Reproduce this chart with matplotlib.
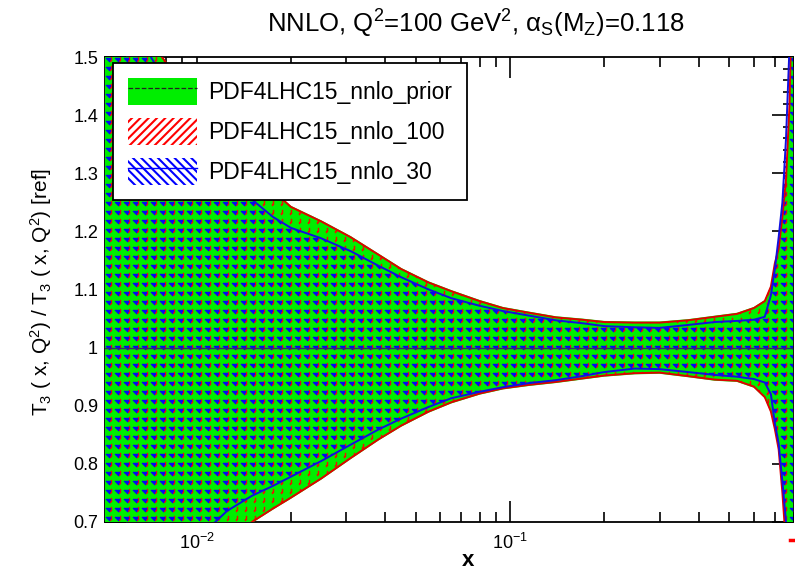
import numpy as np
import matplotlib
matplotlib.use("Agg")
import matplotlib.pyplot as plt
from matplotlib.patches import Patch
from matplotlib.lines import Line2D
from matplotlib.ticker import FuncFormatter, MultipleLocator, LogLocator

plt.rcParams['font.family'] = ['Liberation Sans', 'DejaVu Sans']
plt.rcParams['mathtext.fontset'] = 'custom'
plt.rcParams['mathtext.rm'] = 'Liberation Sans'
plt.rcParams['mathtext.it'] = 'Liberation Sans:italic'
plt.rcParams['mathtext.sf'] = 'Liberation Sans'
plt.rcParams['hatch.linewidth'] = 1.5

# x grid and ratio bands, T3 at Q^2 = 100 GeV^2
x = [0.005, 0.0075, 0.010, 0.0125, 0.015, 0.0175, 0.020, 0.025, 0.031, 0.038,
     0.045, 0.055, 0.065, 0.080, 0.095, 0.115, 0.14, 0.17, 0.20, 0.25,
     0.30, 0.37, 0.45, 0.53, 0.60, 0.65, 0.68, 0.70, 0.72, 0.74,
     0.76, 0.78, 0.80]

nnlo100_up = [1.70, 1.51, 1.42, 1.36, 1.31, 1.27, 1.242, 1.217, 1.19, 1.16,
              1.135, 1.112, 1.097, 1.080, 1.068, 1.060, 1.052, 1.048, 1.044, 1.043,
              1.043, 1.047, 1.053, 1.058, 1.068, 1.080, 1.105, 1.145, 1.17, 1.225,
              1.29, 1.42, 1.70]
nnlo100_lo = [0.40, 0.50, 0.58, 0.65, 0.70, 0.723, 0.742, 0.775, 0.81, 0.842,
              0.866, 0.89, 0.906, 0.921, 0.930, 0.936, 0.941, 0.947, 0.952, 0.956,
              0.957, 0.951, 0.945, 0.943, 0.933, 0.915, 0.89, 0.86, 0.825, 0.75,
              0.66, 0.55, 0.40]

nnlo30_up = [1.65, 1.48, 1.38, 1.31, 1.255, 1.225, 1.206, 1.188, 1.166, 1.141,
             1.121, 1.100, 1.085, 1.072, 1.063, 1.055, 1.047, 1.042, 1.037, 1.035,
             1.034, 1.039, 1.044, 1.046, 1.048, 1.053, 1.09, 1.135, 1.19, 1.25,
             1.36, 1.52, 1.70]
nnlo30_lo = [0.45, 0.55, 0.67, 0.719, 0.745, 0.762, 0.778, 0.805, 0.833, 0.859,
             0.878, 0.898, 0.913, 0.924, 0.932, 0.939, 0.944, 0.951, 0.958, 0.964,
             0.963, 0.958, 0.953, 0.950, 0.946, 0.940, 0.92, 0.87, 0.835, 0.77,
             0.70, 0.56, 0.42]

# prior band is marginally wider than the 100 replica one
prior_up = [v + 0.002 for v in nnlo100_up]
prior_lo = [v - 0.002 for v in nnlo100_lo]
prior_cv = [1.0] * len(x)

labels = ['PDF4LHC15_nnlo_prior', 'PDF4LHC15_nnlo_100', 'PDF4LHC15_nnlo_30']

W, H, DPI = 795, 572, 100
fig = plt.figure(figsize=(W / DPI, H / DPI), dpi=DPI)
ax = fig.add_axes([105 / W, 1 - 522 / H, 688 / W, 465 / H])
ax.set_xscale('log')
ax.set_xlim(0.0051, 0.80)
ax.set_ylim(0.7, 1.5)
ax.set_autoscale_on(False)


def stipple(marks, rgb, shape, period=9):
    # periodic dot texture with a soft halo, like a printed stipple fill
    tile = np.zeros((period, period))
    for r, c in marks:
        tile[r, c] = 1.0
    soft = 0.8 * tile
    for sh, ax_ in [(1, 0), (-1, 0), (1, 1), (-1, 1)]:
        soft += 0.2 * np.roll(tile, sh, axis=ax_)
    soft = np.clip(soft, 0, 0.95)
    ny, nx = shape
    a = np.tile(soft, (ny // period + 1, nx // period + 1))[:ny, :nx]
    img = np.zeros((ny, nx, 4))
    img[..., :3] = rgb
    img[..., 3] = a
    return img


shape = (465, 688)
red_img = stipple([(0, 6), (1, 6), (2, 6), (3, 6), (3, 5), (4, 5)], (1, 0, 0), shape)
blue_img = stipple([(1, 1), (1, 2), (1, 3), (1, 4), (1, 5), (2, 2), (2, 3), (2, 4),
                    (2, 5), (3, 3), (3, 4), (4, 4)], (0, 0, 1), shape)

# prior: plain green
ax.fill_between(x, prior_lo, prior_up, facecolor='#00ee00', edgecolor='none', zorder=3)

# 100 replicas: red stipple clipped to band
band100 = ax.fill_between(x, nnlo100_lo, nnlo100_up, facecolor='none', edgecolor='none', zorder=3)
im = ax.imshow(red_img, extent=(0, 1, 0, 1), transform=ax.transAxes, aspect='auto',
               interpolation='nearest', zorder=3.1)
im.set_clip_path(band100.get_paths()[0], ax.transData)

# 30 replicas: blue stipple
band30 = ax.fill_between(x, nnlo30_lo, nnlo30_up, facecolor='none', edgecolor='none', zorder=3)
im = ax.imshow(blue_img, extent=(0, 1, 0, 1), transform=ax.transAxes, aspect='auto',
               interpolation='nearest', zorder=3.2)
im.set_clip_path(band30.get_paths()[0], ax.transData)

# band outlines
ax.plot(x, nnlo100_up, color='#e00000', lw=1.4, zorder=3.3)
ax.plot(x, nnlo100_lo, color='#e00000', lw=1.4, zorder=3.3)
ax.plot(x, nnlo30_up, color='#1010e0', lw=1.4, zorder=3.4)
ax.plot(x, nnlo30_lo, color='#1010e0', lw=1.4, zorder=3.4)
ax.plot(x, prior_cv, color='#30306a', lw=1.0, zorder=3.5)

ax.set_ylim(0.7, 1.5)
ax.set_xlim(0.0051, 0.80)

ax.yaxis.set_major_locator(MultipleLocator(0.1))
ax.yaxis.set_minor_locator(MultipleLocator(0.02))
ax.yaxis.set_major_formatter(FuncFormatter(lambda v, p: '%g' % round(v, 2)))
ax.xaxis.set_major_locator(LogLocator(base=10))
ax.xaxis.set_minor_locator(LogLocator(base=10, subs=np.arange(2, 10)))
ax.tick_params(which='both', direction='in', top=True, right=True, width=1.2)
ax.tick_params(which='major', length=15)
ax.tick_params(which='minor', length=7)
ax.tick_params(axis='y', labelsize=13, pad=5)
ax.tick_params(axis='x', labelsize=13, pad=8)
for s in ax.spines.values():
    s.set_linewidth(1.3)

handles = [
    (Patch(facecolor='#00ee00', edgecolor='none'),
     Line2D([], [], color='#222222', ls='--', lw=0.9)),
    Patch(facecolor='white', edgecolor='red', hatch='////', lw=0),
    (Patch(facecolor='white', edgecolor='blue', hatch='\\\\\\\\', lw=0),
     Line2D([], [], color='blue', lw=1.0)),
]
leg = ax.legend(handles, labels, loc='upper left', bbox_to_anchor=(113 / W, 1 - 63 / H),
                bbox_transform=fig.transFigure, borderaxespad=0, fontsize=16.5,
                handlelength=3.0, handleheight=1.45, handletextpad=0.5,
                labelspacing=0.55, borderpad=0.65, fancybox=False, framealpha=1)
leg.get_frame().set_edgecolor('black')
leg.get_frame().set_linewidth(1.3)
leg.set_zorder(6)

fig.text(476 / W, 1 - 24 / H,
         r'NNLO, Q$^2$=100 GeV$^2$, α$_\mathrm{S}$(M$_\mathrm{Z}$)=0.118',
         ha='center', va='center', fontsize=18.5)
fig.text(41 / W, 1 - 292 / H,
         r'T$_3$ ( x, Q$^2$) / T$_3$ ( x, Q$^2$) [ref]',
         ha='center', va='center', rotation=90, fontsize=15)
fig.text(468 / W, 1 - 560 / H, 'x', ha='center', va='center', fontsize=16, weight='bold')
fig.add_artist(Line2D([790 / W, 1.0], [1 - 540 / H, 1 - 540 / H], color='red', lw=2.5))

fig.savefig('out.png', dpi=DPI)
